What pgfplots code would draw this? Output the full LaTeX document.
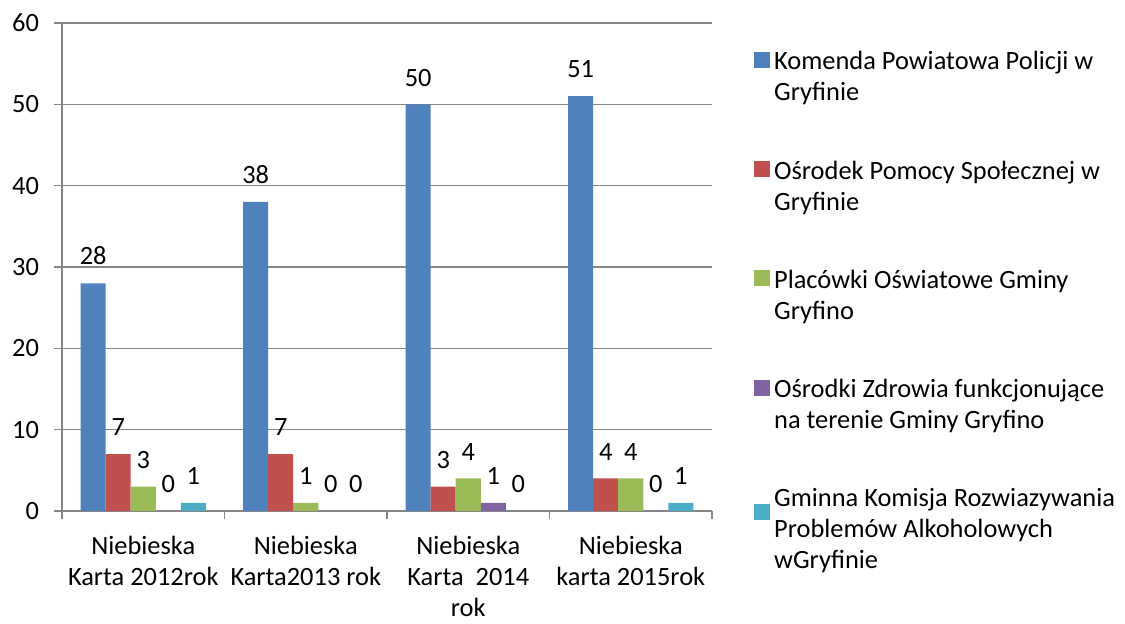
\documentclass[border=0pt]{standalone}
\usepackage{pgfplots}
\pgfplotsset{compat=1.18}
\usepackage{fontspec}
\setmainfont{Carlito}
\definecolor{c1}{HTML}{4F81BD}
\definecolor{c2}{HTML}{C0504D}
\definecolor{c3}{HTML}{9BBB59}
\definecolor{c4}{HTML}{8064A2}
\definecolor{c5}{HTML}{4BACC6}
\definecolor{gridgray}{RGB}{134,134,134}
\newcommand{\f}{\fontsize{13.2}{15.5}\selectfont}
\begin{document}
\begin{tikzpicture}
\begin{axis}[
  name=ax,
  scale only axis,
  width=325pt, height=244pt,
  /pgf/number format/assume math mode=true,
  ybar=0pt, bar width=0.154,
  xmin=-0.5, xmax=3.5, ymin=0, ymax=60,
  enlargelimits=false,
  ytick={0,10,...,60},
  xtick={-0.5,0.5,1.5,2.5,3.5},
  x tick label as interval,
  xticklabels={{Niebieska\\Karta 2012rok},{Niebieska\\Karta2013 rok},{Niebieska\\Karta\ \ 2014\\rok},{Niebieska\\karta 2015rok}},
  xticklabel style={align=center, text=black, font=\f, yshift=-5pt},
  yticklabel style={text=black, font=\f, xshift=-4pt},
  axis x line*=bottom, axis y line*=left,
  axis line style={gridgray, line width=0.6pt},
  ymajorgrids,
  grid style={gridgray, line width=0.6pt},
  tick style={gridgray, line width=0.6pt},
  tick align=outside,
  major tick length=4pt,
  nodes near coords,
  nodes near coords style={font=\f, text=black, anchor=south, yshift=5.5pt},
  legend style={at={(1.055,0.959)}, anchor=north west, draw=none, fill=none,
    font=\f, row sep=24.5pt, cells={anchor=west, align=left}},
  legend image code/.code={\path[#1, draw=none] (0pt,5pt) rectangle (8pt,13pt);},
]
\addplot[fill=c1, draw=none] coordinates {(0,28) (1,38) (2,50) (3,51)};
\addplot[fill=c2, draw=none] coordinates {(0,7) (1,7) (2,3) (3,4)};
\addplot[fill=c3, draw=none] coordinates {(0,3) (1,1) (2,4) (3,4)};
\addplot[fill=c4, draw=none] coordinates {(0,0) (1,0) (2,1) (3,0)};
\addplot[fill=c5, draw=none] coordinates {(0,1) (1,0) (2,0) (3,1)};
\addlegendentry{Komenda Powiatowa Policji w\\Gryfinie}
\addlegendentry{Ośrodek Pomocy Społecznej w\\Gryfinie}
\addlegendentry{Placówki Oświatowe Gminy\\Gryfino}
\addlegendentry{Ośrodki Zdrowia funkcjonujące\\na terenie Gminy Gryfino}
\addlegendentry{Gminna Komisja Rozwiazywania\\Problemów Alkoholowych\\wGryfinie}
\end{axis}
\path ([shift={(-31pt,-55.5pt)}]ax.south west) rectangle ([shift={(206.5pt,11.5pt)}]ax.north east);
\end{tikzpicture}
\end{document}
